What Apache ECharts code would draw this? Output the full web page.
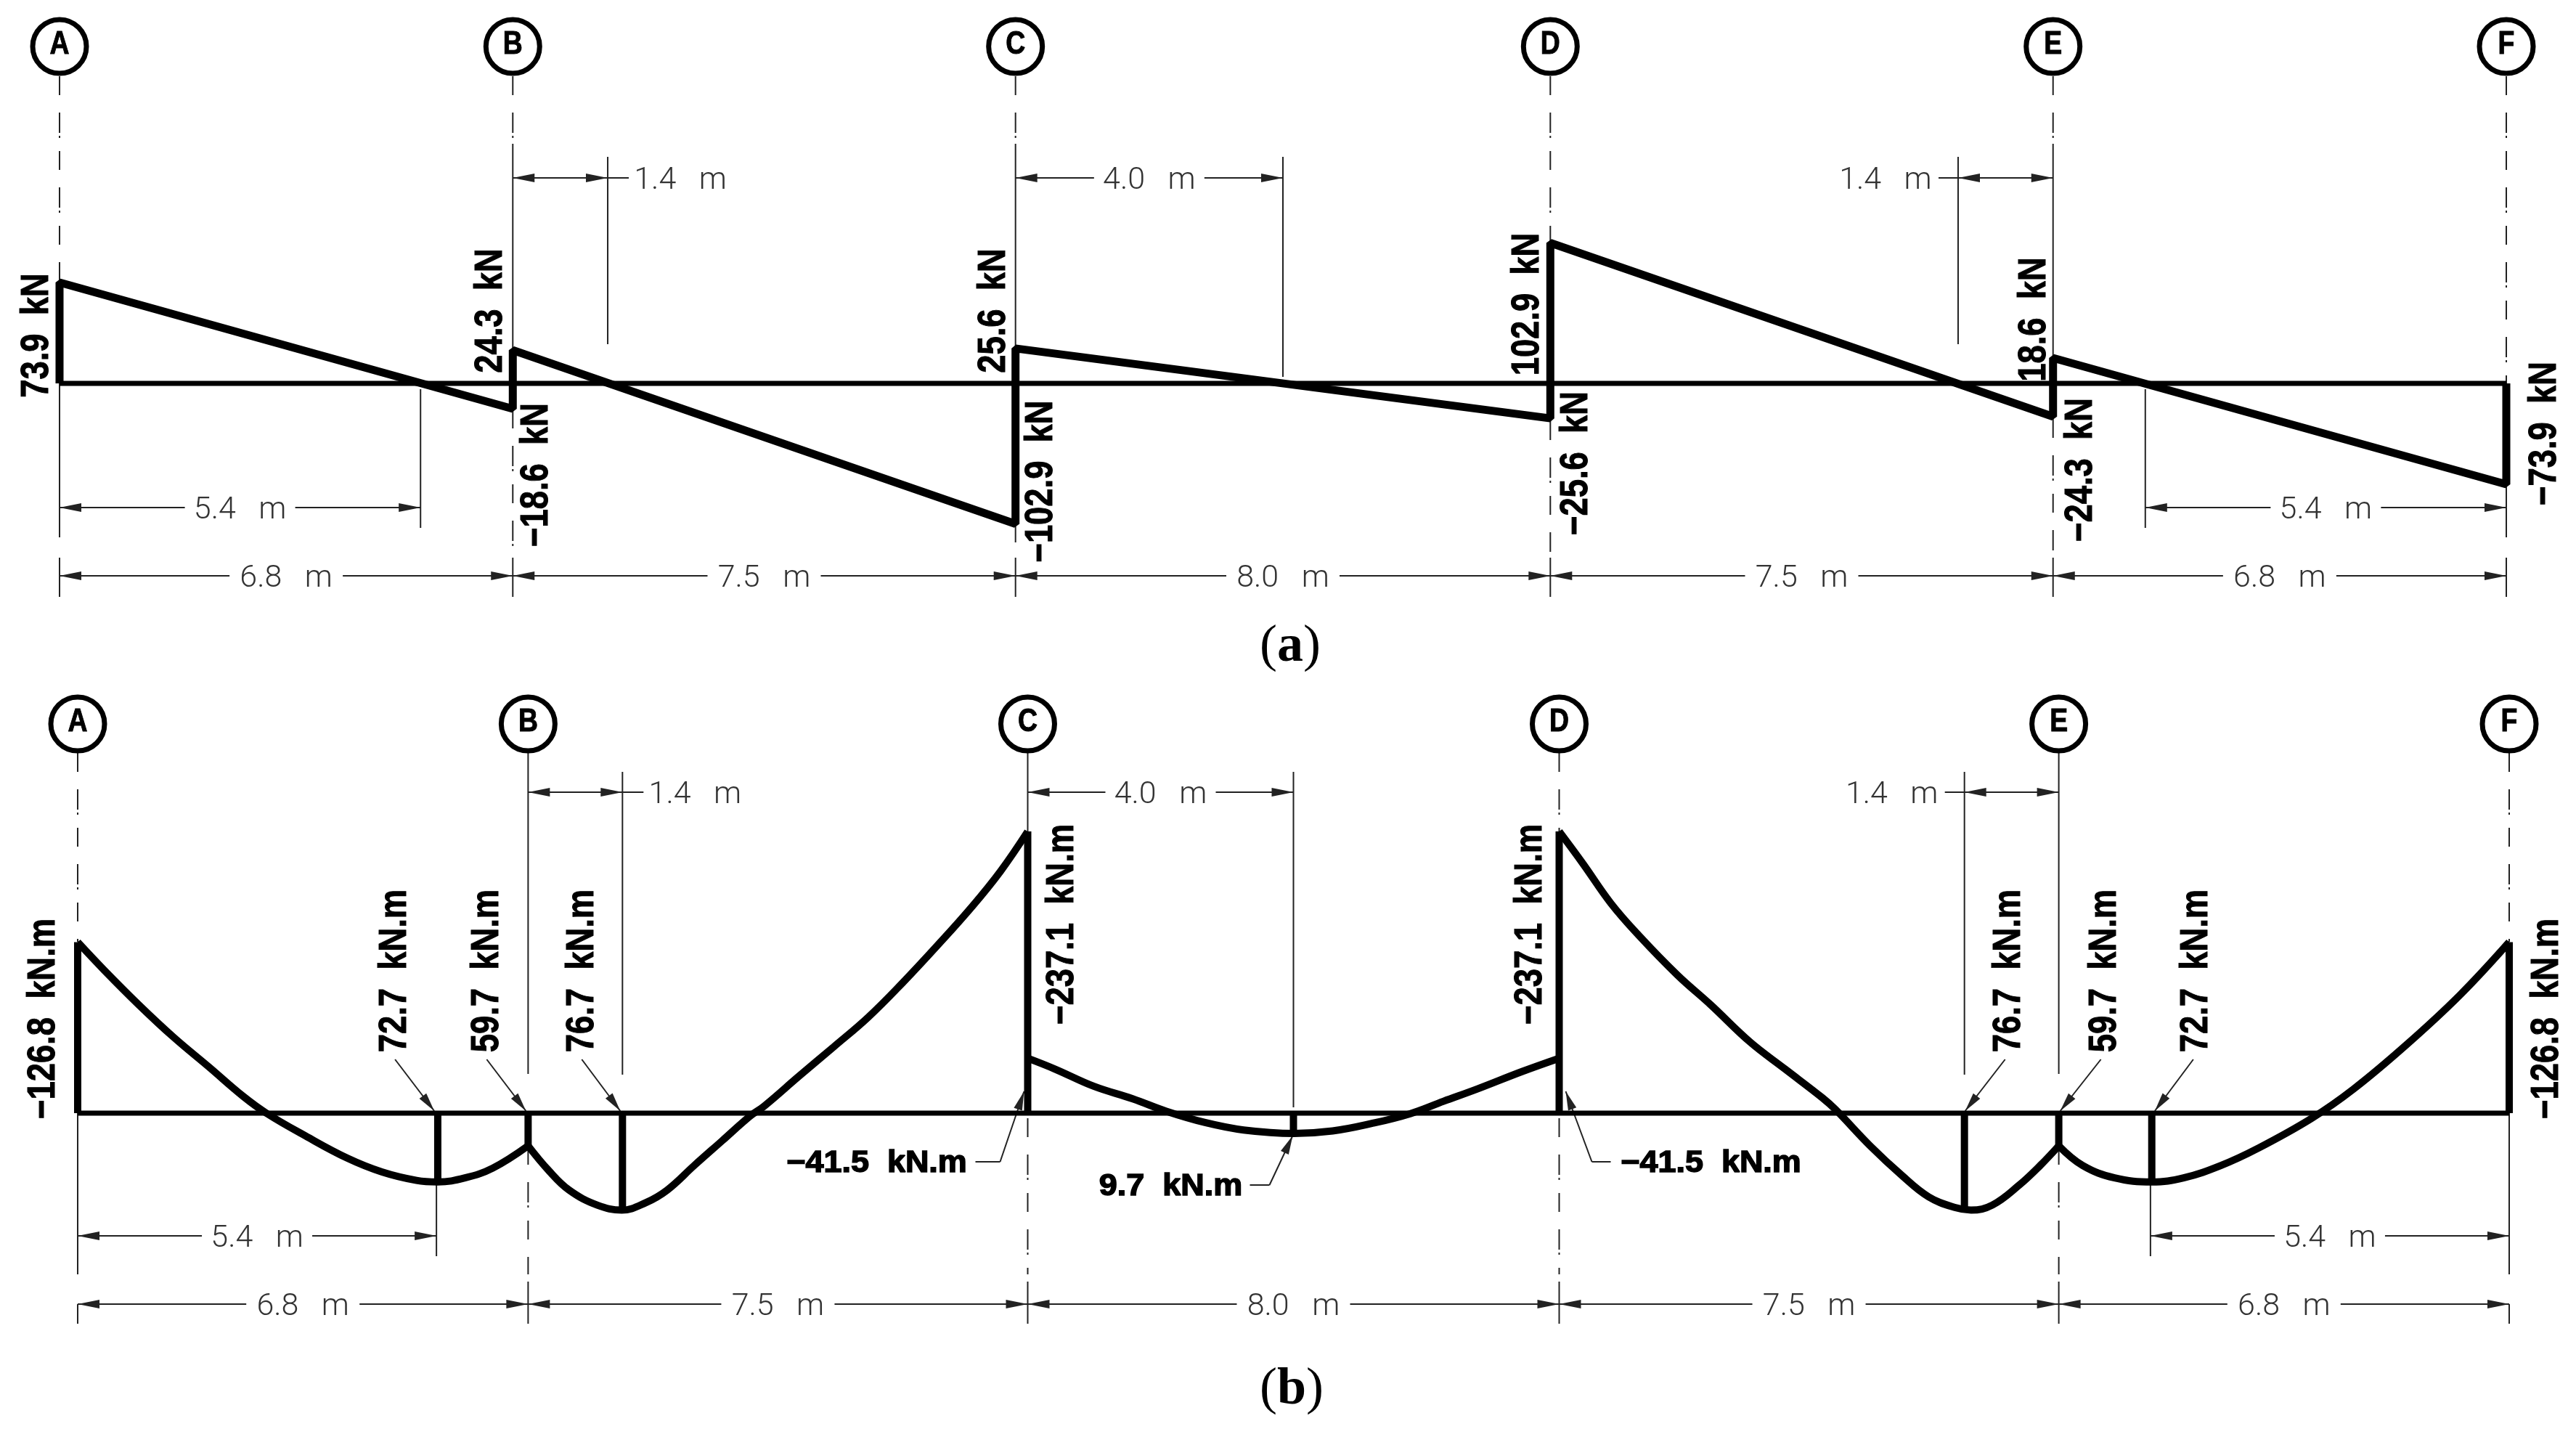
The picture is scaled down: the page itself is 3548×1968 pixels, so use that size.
<!DOCTYPE html>
<html>
<head>
<meta charset="utf-8">
<title>Shear and moment diagrams</title>
<script src="https://cdn.jsdelivr.net/npm/echarts@6/dist/echarts.min.js"></script>
<style>html,body{margin:0;background:#fff}#main{width:3548px;height:1968px}</style>
</head>
<body>
<div id="main"></div>
<script>
// stations along the beam, metres
var stationNames = ['A', 'B', 'C', 'D', 'E', 'F'];
var stationX = [0, 6.78, 14.3, 22.3, 29.82, 36.6];
var spanLabels = ['6.8   m', '7.5   m', '8.0   m', '7.5   m', '6.8   m'];

// inner dimensions
var dimFrom = [0, 6.78, 14.3, 28.4, 31.2];
var dimTo = [5.4, 8.2, 18.3, 29.82, 36.6];
var dimLabels = ['5.4   m', '1.4   m', '4.0   m', '1.4   m', '5.4   m'];

// (a) shear, kN
var shearX = [0, 0, 6.78, 6.78, 14.3, 14.3, 22.3, 22.3, 29.82, 29.82, 36.6, 36.6];
var shearV = [0, 73.9, -18.6, 24.3, -102.9, 25.6, -25.6, 102.9, -24.3, 18.6, -73.9, 0];
var shearLabels = ['73.9  kN', '24.3  kN', '−18.6  kN', '25.6  kN', '−102.9  kN', '102.9  kN', '−25.6  kN', '18.6  kN', '−24.3  kN', '−73.9  kN'];

// (b) moment as drawn (the drawing is not to scale with its labels), one list per span
var momentSpanX = [
  [0, 0.4, 0.92, 1.44, 1.97, 2.49, 2.85, 3.43, 4.06, 4.58, 5.1, 5.42, 5.83, 6.25, 6.78],
  [6.78, 7.09, 7.4, 7.82, 8.19, 8.55, 8.87, 9.28, 9.7, 10.12, 10.33, 10.85, 11.38, 11.9, 12.42, 12.94, 13.47, 13.89, 14.3],
  [14.3, 14.71, 15.3, 15.88, 16.38, 16.97, 17.55, 18.31, 18.89, 19.48, 20.06, 20.56, 21.07, 21.74, 22.3],
  [22.3, 22.66, 23.08, 23.5, 24.08, 24.58, 25.17, 25.7, 26.26, 26.46, 26.98, 27.46, 27.86, 28.26, 28.5, 28.82, 29.22, 29.54, 29.82],
  [29.82, 30.18, 30.66, 31.22, 31.7, 32.26, 32.82, 33.62, 34.26, 35.06, 35.86, 36.6]
];
var momentSpanY = [
  [144, 120.3, 91.2, 64.1, 39.1, 14.2, -0.4, -19.2, -37.9, -49.5, -56.6, -57.9, -54.5, -46.2, -27.5],
  [-27.5, -48.3, -64.9, -77.4, -81.6, -75.4, -64.9, -44.1, -23.3, -2.5, 5.8, 30.8, 55.8, 80.8, 109.9, 141.1, 174.4, 203.6, 237.1],
  [46.2, 37.1, 22.5, 12.1, 1.7, -7.9, -14.2, -17.1, -15, -8.7, -0.4, 10, 20.4, 35, 46.2],
  [237.1, 209.8, 176.5, 149.5, 116.2, 91.2, 60, 37.1, 13, 3, -27.5, -52.5, -70.4, -79.5, -81.6, -77.4, -60.8, -44.1, -27.5],
  [-27.5, -44.1, -54.5, -57.9, -54.5, -44.1, -29.6, -4.6, 20.4, 57.9, 99.5, 144]
];
var ordinateX = [0, 5.42, 6.78, 8.2, 14.3, 18.3, 22.3, 28.4, 29.82, 31.22, 36.6];
var ordinateY = [144, -57.9, -27.5, -81.6, 237.1, -17.1, 237.1, -81.6, -27.5, -57.9, 144];
var momentLabels = ['−126.8  kN.m', '72.7  kN.m', '59.7  kN.m', '76.7  kN.m', '−237.1  kN.m', '−237.1  kN.m', '76.7  kN.m', '59.7  kN.m', '72.7  kN.m', '−126.8  kN.m'];
var momentCallouts = ['−41.5  kN.m', '9.7  kN.m', '−41.5  kN.m'];

var INK = '#000';
var THIN = '#222';
var DIM_FONT = '300 43px Roboto, "Liberation Sans", sans-serif';
var BOLD_FONT = 'bold 54px "Liberation Sans", Arial, sans-serif';
var DASH = [26, 24, 28, 4, 3, 18];

function seg(x1, y1, x2, y2, w, dash, color) {
  return {type: 'line', shape: {x1: x1, y1: y1, x2: x2, y2: y2},
    style: {stroke: color || THIN, lineWidth: w || 2, lineDash: dash || null, fill: null}};
}
function txt(s, x, y, font, opt) {
  opt = opt || {};
  return {type: 'text', x: x, y: y, rotation: opt.rot || 0, scaleX: opt.sx || 1,
    style: {text: s, font: font, fill: opt.color || INK, textAlign: 'center', textVerticalAlign: 'middle',
      stroke: opt.heavy ? INK : null, lineWidth: opt.heavy || 0}};
}
function arrow(tipX, tipY, dx, dy, len, half) {
  // dx,dy = unit vector pointing from tail to tip
  var bx = tipX - dx * len, by = tipY - dy * len;
  return {type: 'polygon', shape: {points: [[tipX, tipY], [bx - dy * half, by + dx * half], [bx + dy * half, by - dx * half]]},
    style: {fill: THIN}};
}
function dimension(xa, xb, y, label, textX, gap, stubA, stubB) {
  var out = [arrow(xa, y, -1, 0, 30, 6), arrow(xb, y, 1, 0, 30, 6)];
  if (stubA != null) out.push(seg(xa, y, stubA, y));
  else if (stubB != null) out.push(seg(xb, y, stubB, y));
  if (gap) {
    out.push(seg(xa, y, textX - gap, y), seg(textX + gap, y, xb, y));
  } else {
    out.push(seg(xa, y, xb, y));
  }
  out.push(txt(label, textX, y + 4, DIM_FONT, {color: '#333'}));
  return out;
}
function annoSeries(grid, rows) {
  return {
    type: 'custom', xAxisIndex: grid, yAxisIndex: grid, silent: true, clip: false,
    data: rows.map(function (r, i) { return [i, 0]; }),
    renderItem: function (params, api) {
      var X = function (m) { return api.coord([m, 0])[0]; };
      return {type: 'group', children: rows[params.dataIndex](X, api)};
    }
  };
}

// things both panels draw the same way
function commonRows(p) {
  var rows = [];
  // grid lines, p.segs: [station, y1, y2, dashed]
  p.segs.forEach(function (s) {
    rows.push(function (X) { return [seg(X(stationX[s[0]]), s[1], X(stationX[s[0]]), s[2], 2, s[3] ? DASH : null)]; });
  });
  // balloons
  stationNames.forEach(function (n, i) {
    rows.push(function (X) {
      return [
        {type: 'circle', shape: {cx: X(stationX[i]), cy: p.balloonY, r: 37}, style: {fill: '#fff', stroke: INK, lineWidth: 7}},
        txt(n, X(stationX[i]), p.balloonY - 2, 'bold 44px "Liberation Sans", sans-serif', {sx: 0.85, heavy: 1})
      ];
    });
  });
  // span dimensions
  spanLabels.forEach(function (l, i) {
    rows.push(function (X) {
      var a = X(stationX[i]), b = X(stationX[i + 1]);
      return dimension(a, b, p.spanY, l, (a + b) / 2, 78);
    });
  });
  // inner dimensions and their extension lines
  dimLabels.forEach(function (l, i) {
    rows.push(function (X) {
      var a = X(dimFrom[i]), b = X(dimTo[i]), e = i <= 2 ? b : a;
      var rowY = (i === 0 || i === 4) ? p.lowY : p.highY;
      var ext = seg(e, p.ext[i][0], e, p.ext[i][1]);
      if (i === 1) return dimension(a, b, rowY, l, b + 100, 0, null, b + 29).concat(ext);
      if (i === 3) return dimension(a, b, rowY, l, a - 100, 0, a - 27, null).concat(ext);
      return dimension(a, b, rowY, l, (a + b) / 2, 76).concat(ext);
    });
  });
  return rows;
}

var panelA = {
  balloonY: 64, spanY: 793, lowY: 699, highY: 245,
  ext: [[536, 727], [216, 474], [216, 519], [216, 474], [536, 727]],
  segs: [
    [0, 105, 389, 1], [0, 528, 740], [0, 768, 822],
    [1, 105, 198, 1], [1, 198, 481], [1, 564, 760, 1], [1, 768, 822],
    [2, 105, 198, 1], [2, 198, 479], [2, 721, 760, 1], [2, 768, 822],
    [3, 105, 334, 1], [3, 580, 760, 1], [3, 768, 822],
    [4, 105, 198, 1], [4, 198, 491], [4, 577, 760, 1], [4, 768, 822],
    [5, 105, 528, 1], [5, 668, 740], [5, 768, 822]
  ]
};
var panelB = {
  balloonY: 997, spanY: 1796, lowY: 1702, highY: 1091,
  ext: [[1627, 1730], [1063, 1480], [1063, 1525], [1063, 1480], [1627, 1730]],
  segs: [
    [0, 1037, 1297, 1], [0, 1533, 1755], [0, 1796, 1823],
    [1, 1037, 1479], [1, 1578, 1755, 1], [1, 1765, 1823],
    [2, 1037, 1145], [2, 1540, 1755, 1], [2, 1765, 1823],
    [3, 1037, 1145, 1], [3, 1540, 1755, 1], [3, 1765, 1823],
    [4, 1037, 1479], [4, 1578, 1755, 1], [4, 1765, 1823],
    [5, 1037, 1297, 1], [5, 1533, 1755], [5, 1796, 1823]
  ]
};

// label anchors: [x in metres, px off that x, centre y]
var shearAnchors = [[0, -31, 462], [6.78, -30, 428], [6.78, 33, 654], [14.3, -30, 428], [14.3, 35, 663],
  [22.3, -31, 419], [22.3, 36, 638], [29.82, -26, 440], [29.82, 38, 647], [36.6, 53, 597]];
var momentAnchors = [[0, -47, 1403], [5.4, -57, 1337], [6.78, -56, 1337], [8.2, -55, 1337], [14.3, 48, 1273],
  [22.3, -39, 1273], [28.4, 61, 1337], [29.82, 63, 1337], [31.2, 63, 1337], [36.6, 52, 1403]];
var calloutAnchors = [[14.3, -208, 1602], [18.3, -169, 1634], [22.3, 209, 1602]];

// leaders: [x in metres, [[dx, y], ... tip]]
var leaders = [
  [5.4, [[-57, 1459], [-3, 1530]]],
  [6.78, [[-57, 1459], [-3, 1530]]],
  [8.2, [[-56, 1459], [-3, 1530]]],
  [28.4, [[56, 1459], [1, 1530]]],
  [29.82, [[58, 1459], [2, 1530]]],
  [31.2, [[59, 1459], [6, 1530]]],
  [14.3, [[-72, 1600], [-38, 1600], [-5, 1503]]],
  [22.3, [[71, 1600], [45, 1600], [9, 1503]]],
  [18.3, [[-60, 1632], [-33, 1632], [-1, 1564]]]
];

var rowsA = commonRows(panelA);
shearLabels.forEach(function (l, i) {
  rowsA.push(function (X) {
    return [txt(l, X(shearAnchors[i][0]) + shearAnchors[i][1], shearAnchors[i][2], BOLD_FONT, {rot: Math.PI / 2, sx: 0.84, heavy: 1})];
  });
});

var rowsB = commonRows(panelB);
momentLabels.forEach(function (l, i) {
  rowsB.push(function (X) {
    return [txt(l, X(momentAnchors[i][0]) + momentAnchors[i][1], momentAnchors[i][2], BOLD_FONT, {rot: Math.PI / 2, sx: 0.84, heavy: 1})];
  });
});
momentCallouts.forEach(function (l, i) {
  rowsB.push(function (X) {
    return [txt(l, X(calloutAnchors[i][0]) + calloutAnchors[i][1], calloutAnchors[i][2], 'bold 42px "Liberation Sans", sans-serif', {sx: 1.07, heavy: 1.5})];
  });
});
leaders.forEach(function (ld) {
  rowsB.push(function (X) {
    var x0 = X(ld[0]), out = [], p = ld[1];
    for (var i = 1; i < p.length; i++) out.push(seg(x0 + p[i - 1][0], p[i - 1][1], x0 + p[i][0], p[i][1]));
    var a = p[p.length - 2], b = p[p.length - 1];
    var dx = b[0] - a[0], dy = b[1] - a[1], n = Math.sqrt(dx * dx + dy * dy);
    out.push(arrow(x0 + b[0], b[1], dx / n, dy / n, 26, 6));
    return out;
  });
});

function pairs(xs, ys) {
  return xs.map(function (x, i) { return [x, ys[i]]; });
}
function thickLine(grid, data, width, smooth) {
  return {type: 'line', xAxisIndex: grid, yAxisIndex: grid, data: data, showSymbol: false, silent: true, clip: false,
    smooth: smooth || false, lineStyle: {color: INK, width: width, cap: 'butt', join: 'bevel'}};
}

var option = {
  animation: false,
  backgroundColor: '#fff',
  grid: [
    {left: 82, width: 3370, top: 302.4, height: 451.2},
    {left: 107, width: 3349, top: 1124, height: 572.6}
  ],
  xAxis: [
    {type: 'value', gridIndex: 0, min: 0, max: 36.6, show: false},
    {type: 'value', gridIndex: 1, min: 0, max: 36.6, show: false}
  ],
  yAxis: [
    {type: 'value', gridIndex: 0, min: -120, max: 120, show: false},
    {type: 'value', gridIndex: 1, min: -100, max: 250, show: false}
  ],
  series: [
    annoSeries(0, rowsA),
    annoSeries(1, rowsB),
    thickLine(0, [[0, 0], [36.6, 0]], 7),
    thickLine(1, [[0, 0], [36.6, 0]], 7),
    thickLine(0, pairs(shearX, shearV), 11)
  ].concat(momentSpanX.map(function (xs, i) {
    return thickLine(1, pairs(xs, momentSpanY[i]), 10, 0.4);
  })).concat([
    {
      type: 'custom', xAxisIndex: 1, yAxisIndex: 1, silent: true, clip: false,
      data: pairs(ordinateX, ordinateY),
      renderItem: function (params, api) {
        var a = api.coord([api.value(0), 0]), b = api.coord([api.value(0), api.value(1)]);
        return seg(a[0], a[1], b[0], b[1], 10, null, INK);
      }
    }
  ]),
  graphic: [
    {type: 'text', x: 1777, y: 891, style: {text: '{n|(}{b|a}{n|)}', textAlign: 'center', textVerticalAlign: 'middle',
      rich: {n: {font: '72px "Liberation Serif", serif', fill: INK}, b: {font: 'bold 72px "Liberation Serif", serif', fill: INK}}}},
    {type: 'text', x: 1779, y: 1914, style: {text: '{n|(}{b|b}{n|)}', textAlign: 'center', textVerticalAlign: 'middle',
      rich: {n: {font: '72px "Liberation Serif", serif', fill: INK}, b: {font: 'bold 72px "Liberation Serif", serif', fill: INK}}}}
  ]
};

var myChart = echarts.init(document.getElementById('main'));
myChart.setOption(option);
</script>
</body>
</html>
